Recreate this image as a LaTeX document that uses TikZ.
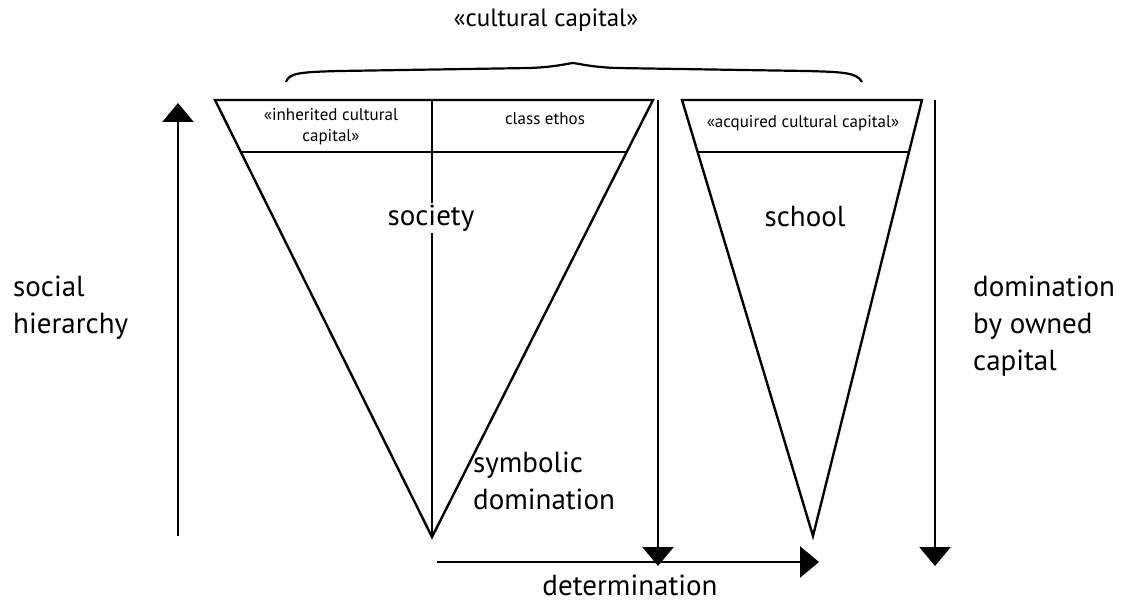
\documentclass[tikz,border=0pt]{standalone}
\usepackage{fontspec}
\setmainfont{PT Sans}
\usetikzlibrary{arrows.meta}

\tikzset{
  titletext/.style={font=\fontsize{25}{35}\selectfont, inner sep=0pt},
  bigtext/.style={font=\fontsize{29}{37}\selectfont, align=left, inner sep=0pt},
  smalltext/.style={font=\fontsize{17}{21}\selectfont, align=center, inner sep=0pt},
  axisarrow/.style={-{Triangle[width=31pt,length=19pt]}},
}

\begin{document}
\begin{tikzpicture}[x=1pt, y=-1pt, line width=2.4pt]
\useasboundingbox (0,0) rectangle (1136,601);

% society
\coordinate (socTL) at (215,100);
\coordinate (socTR) at (653,100);
\coordinate (socTM) at (432,100);
\coordinate (socB) at (432,537);
\coordinate (socML) at (241,152);
\coordinate (socMR) at (627,152);
\draw (socTL) -- (socTR) -- (socB) -- cycle;
\draw (socTM) -- (socB);
\draw (socML) -- (socMR);

% school
\coordinate (schTL) at (682,100);
\coordinate (schTR) at (922,100);
\coordinate (schB) at (813,536);
\coordinate (schML) at (697.6,152);
\coordinate (schMR) at (909,152);
\draw (schTL) -- (schTR) -- (schB) -- cycle;
\draw (schML) -- (schMR);

% brace
\coordinate (braceL) at (286,82);
\coordinate (braceM) at (573,63);
\coordinate (braceR) at (862,82);
\draw[line width=2.2pt] (braceL) .. controls (289,73) and (300,72) .. (340,71)
  -- (530,68) .. controls (555,67) and (565,64) .. (braceM)
  .. controls (581,64) and (591,67) .. (616,68)
  -- (806,71) .. controls (846,72) and (857,73) .. (braceR);

% arrows
\coordinate (hierB) at (178,536);
\coordinate (hierT) at (178,103);
\coordinate (symT) at (658,100);
\coordinate (symB) at (658,566);
\coordinate (domT) at (935,100);
\coordinate (domB) at (935,566);
\coordinate (detL) at (437,562);
\coordinate (detR) at (819,562);
\draw[axisarrow] (hierB) -- (hierT);
\draw[axisarrow] (symT) -- (symB);
\draw[axisarrow] (domT) -- (domB);
\draw[axisarrow] (detL) -- (detR);

% labels
\node[titletext] (capital) at (546,20) {«cultural capital»};
\node[smalltext] (inherited) at (331,127) {«inherited cultural\\capital»};
\node[smalltext] (ethos) at (545,119) {class ethos};
\node[smalltext] (acquired) at (803,123) {«acquired cultural capital»};
\node[bigtext, fill=white, inner sep=2pt] (society) at (431,218) {society};
\node[bigtext] (school) at (805,217) {school};
\node[bigtext, anchor=west] (hierarchy) at (12,308) {social\\hierarchy};
\node[bigtext, anchor=west] (symbolic) at (472,481) {symbolic\\domination};
\node[bigtext, anchor=west] (owned) at (972,326) {domination\\by owned\\capital};
\node[bigtext] (determination) at (630,585) {determination};
\end{tikzpicture}
\end{document}
